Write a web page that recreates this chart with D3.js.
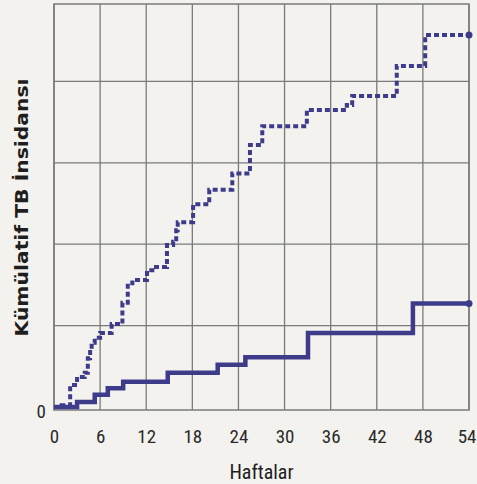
<!DOCTYPE html>
<html>
<head>
<meta charset="utf-8">
<script src="https://cdn.jsdelivr.net/npm/d3@7"></script>
<style>
html,body{margin:0;padding:0;background:#f3f2ee;}
svg{display:block;}
</style>
</head>
<body>
<svg id="chart" width="477" height="484"></svg>
<script>
// Data (weeks, cumulative incidence in grid units)
const xTicks = [0, 6, 12, 18, 24, 30, 36, 42, 48, 54];
const yGrid = [0, 1, 2, 3, 4, 5];
const dashedWeeks  = [0, 1.0, 2.1, 3.0, 4.0, 4.4, 4.7, 4.9, 5.3, 6.0, 7.5, 8.9, 9.6, 10.2, 12.1, 12.8, 14.7, 15.5, 15.9, 16.1, 18.1, 20.2, 23.2, 25.5, 27.1, 32.9, 38.1, 38.8, 44.6, 48.3, 54];
const dashedValues = [0, 0.02, 0.27, 0.37, 0.42, 0.60, 0.70, 0.79, 0.85, 0.91, 1.02, 1.28, 1.52, 1.56, 1.68, 1.72, 1.99, 2.03, 2.17, 2.27, 2.49, 2.67, 2.87, 3.22, 3.45, 3.65, 3.71, 3.82, 4.19, 4.57, 4.57];
const solidWeeks  = [0, 3.0, 5.3, 7.0, 9.0, 14.8, 21.3, 24.9, 33.05, 46.7, 54];
const solidValues = [0, 0.06, 0.15, 0.23, 0.31, 0.42, 0.52, 0.61, 0.91, 1.27, 1.27];
const xLabel = "Haftalar";
const yLabel = "Kümülatif TB İnsidansı";

const svg = d3.select("#chart");
const mLeft = 54, mRight = 469, mTop = 4, mBottom = 410;
const x = d3.scaleLinear().domain([0, 54]).range([mLeft, mRight]);
const y = d3.scaleLinear().domain([0, 5]).range([407, 0]);

const lineColor = "#3e3c8a";
const gridColor = "#7a7a7a";
const narrowFont = "'Liberation Sans Narrow','Roboto Condensed','Arial Narrow',sans-serif";

// vertical grid
svg.append("g").selectAll("line").data(xTicks).join("line")
  .attr("x1", d => x(d)).attr("x2", d => x(d))
  .attr("y1", mTop).attr("y2", mBottom)
  .attr("stroke", gridColor).attr("stroke-width", 1.3);
// horizontal grid
svg.append("g").selectAll("line").data(yGrid.filter(d => d > 0 && d < 5)).join("line")
  .attr("x1", mLeft).attr("x2", mRight)
  .attr("y1", d => y(d)).attr("y2", d => y(d))
  .attr("stroke", gridColor).attr("stroke-width", 1.3);
// frame
svg.append("rect").attr("x", mLeft).attr("y", mTop)
  .attr("width", mRight - mLeft).attr("height", mBottom - mTop)
  .attr("fill", "none").attr("stroke", gridColor).attr("stroke-width", 1.5);

// x axis tick labels
const xAxis = d3.axisBottom(x).tickValues(xTicks).tickSize(0).tickPadding(0);
const gx = svg.append("g").attr("transform", `translate(0,${mBottom})`).call(xAxis);
gx.select(".domain").remove();
gx.selectAll("text")
  .attr("dy", null).attr("y", 33)
  .attr("font-family", narrowFont)
  .attr("font-size", 19).attr("fill", "#2a2a2a");
// keep the last label inside the window
gx.selectAll("text").filter(d => d === 54)
  .attr("text-anchor", "end").attr("x", 476 - x(54));

// y "0" label
svg.append("text").attr("x", 46).attr("y", 418).attr("text-anchor", "end")
  .attr("font-family", narrowFont)
  .attr("font-size", 19).attr("fill", "#2a2a2a").text("0");

// axis titles
svg.append("text").attr("x", 261.5).attr("y", 479).attr("text-anchor", "middle")
  .attr("font-family", narrowFont)
  .attr("font-size", 20).attr("fill", "#1e1e1e").text(xLabel);
svg.append("text")
  .attr("transform", "translate(28,207.5) rotate(-90)")
  .attr("text-anchor", "middle")
  .attr("font-family", "'DejaVu Sans',sans-serif").attr("font-weight", "bold")
  .attr("font-size", 18.5).attr("fill", "#1e1e1e")
  .attr("textLength", 258).attr("lengthAdjust", "spacingAndGlyphs")
  .text(yLabel);

const line = d3.line().curve(d3.curveStepAfter).x(d => x(d[0])).y(d => y(d[1]));
const dashed = d3.zip(dashedWeeks, dashedValues);
const solid = d3.zip(solidWeeks, solidValues);

svg.append("path").datum(dashed).attr("d", line)
  .attr("fill", "none").attr("stroke", lineColor).attr("stroke-width", 4)
  .attr("stroke-dasharray", "5,3");
svg.append("path").datum(solid).attr("d", line)
  .attr("fill", "none").attr("stroke", lineColor).attr("stroke-width", 4.5);

// end points
svg.append("g").selectAll("circle").data([dashed[dashed.length - 1], solid[solid.length - 1]]).join("circle")
  .attr("cx", d => x(d[0])).attr("cy", d => y(d[1])).attr("r", 3.5).attr("fill", lineColor);
</script>
</body>
</html>
